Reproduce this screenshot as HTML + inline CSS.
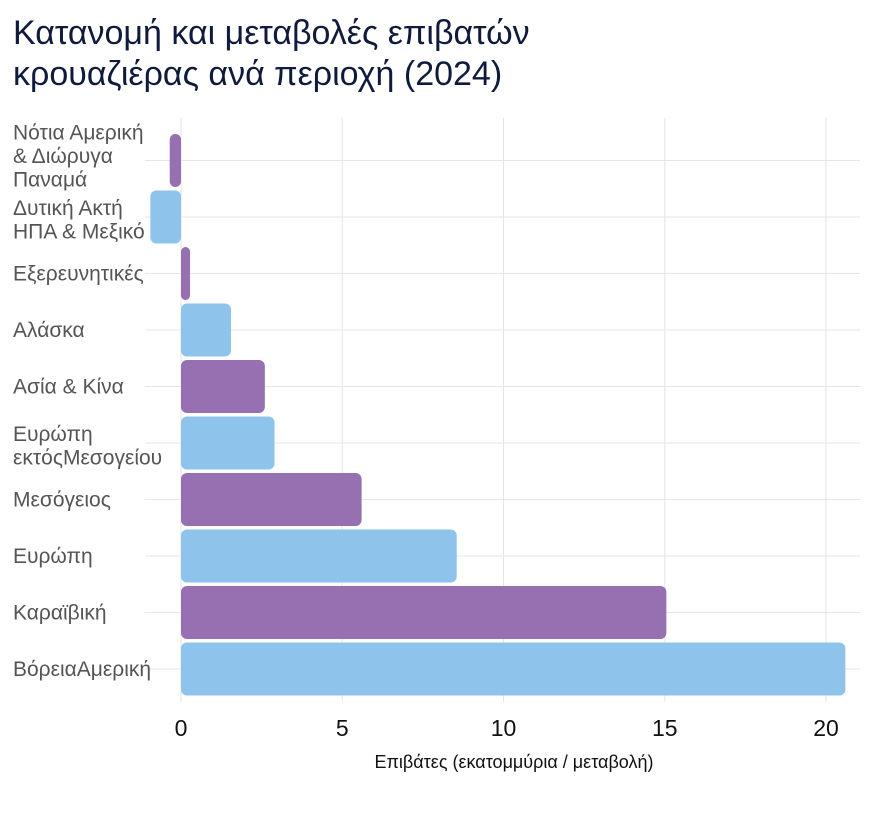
<!DOCTYPE html>
<html><head><meta charset="utf-8"><style>
body{margin:0;background:#fff;width:878px;height:808px;overflow:hidden;font-family:"Liberation Sans","Noto Sans CJK SC",sans-serif}
svg text{font-family:"Liberation Sans","Noto Sans CJK SC",sans-serif}
</style></head><body>
<svg id="c" width="878" height="808">
<text x="13" y="44" font-size="34" fill="#0f1a3d">Κατανομή και μεταβολές επιβατών</text>
<text x="13" y="85" font-size="34" fill="#0f1a3d">κρουαζιέρας ανά περιοχή (2024)</text>
<g id="grid"></g><g id="labels"></g><g id="bars"></g><g id="ticks"></g>
<text x="514" y="768" font-size="18" fill="#111" text-anchor="middle">Επιβάτες (εκατομμύρια / μεταβολή)</text>
</svg>
<script>
const categories=[["Νότια Αμερική","& Διώρυγα","Παναμά"],["Δυτική Ακτή","ΗΠΑ & Μεξικό"],["Εξερευνητικές"],["Αλάσκα"],["Ασία & Κίνα"],["Ευρώπη","εκτόςΜεσογείου"],["Μεσόγειος"],["Ευρώπη"],["Καραϊβική"],["ΒόρειαΑμερική"]];
const values=[-0.35,-0.95,0.28,1.55,2.6,2.9,5.6,8.55,15.05,20.6];
const tickValues=[0,5,10,15,20];
const tickLabels=["0","5","10","15","20"];
const NS="http://www.w3.org/2000/svg";
const x=v=>181+v*32.25;
const y=i=>160.5+i*56.5;
function mk(t,a,p){const e=document.createElementNS(NS,t);for(const k in a)e.setAttribute(k,a[k]);document.getElementById(p).appendChild(e);return e;}
tickValues.forEach((v,i)=>{
 const l=mk('line',{x1:x(v),x2:x(v),y1:118,y2:702,stroke:'#e6e6e6','stroke-width':1},'grid');
 
 
 const t=mk('text',{x:x(v),y:736,'font-size':23,fill:'#111','text-anchor':'middle'},'ticks');
 t.textContent=tickLabels[i];
 
 
});
categories.forEach((c,i)=>{
 const g=mk('line',{x1:145,x2:860,y1:y(i),y2:y(i),stroke:'#e6e6e6','stroke-width':1},'grid');
 
 
 const t=mk('text',{x:13,'font-size':21,fill:'#555'},'labels');
 
 
 const n=c.length,y0=y(i)+7-(n-1)*12+(n==3?-4:(n==2?3:0));
 c.forEach((s,j)=>{const ts=document.createElementNS(NS,'tspan');ts.setAttribute('x',13);ts.setAttribute('y',y0+j*23.5);ts.textContent=s;t.appendChild(ts);});
 const v=values[i],x0=Math.min(x(0),x(v)),w=Math.abs(x(v)-x(0));
 const r=Math.min(6,w/2);
 const b=mk('rect',{x:x0,y:y(i)-26.5,width:w,height:53,rx:r,ry:r,fill:i%2==0?'#9670b0':'#8ec3ec'},'bars');
 
 
});
</script>
</body></html>
